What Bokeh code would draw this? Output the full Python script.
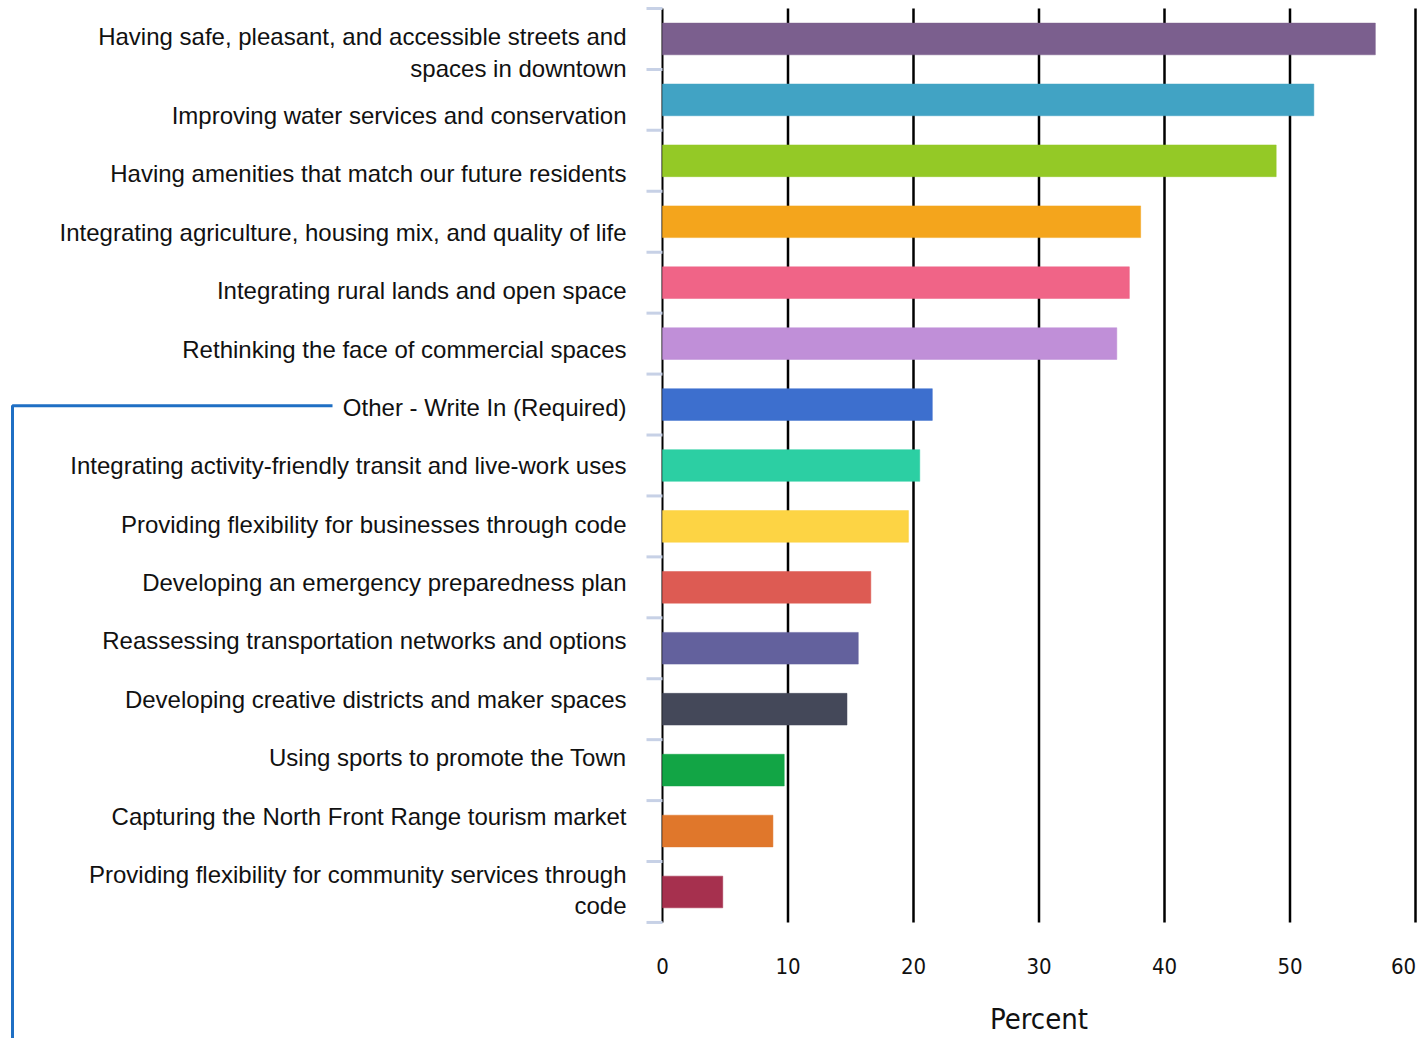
from bokeh.plotting import figure
from bokeh.models import Range1d
from bokeh.embed import file_html
from bokeh.resources import INLINE

# Survey priorities, ordered top to bottom
categories = [
    "Having safe, pleasant, and accessible streets and\nspaces in downtown",
    "Improving water services and conservation",
    "Having amenities that match our future residents",
    "Integrating agriculture, housing mix, and quality of life",
    "Integrating rural lands and open space",
    "Rethinking the face of commercial spaces",
    "Other - Write In (Required)",
    "Integrating activity-friendly transit and live-work uses",
    "Providing flexibility for businesses through code",
    "Developing an emergency preparedness plan",
    "Reassessing transportation networks and options",
    "Developing creative districts and maker spaces",
    "Using sports to promote the Town",
    "Capturing the North Front Range tourism market",
    "Providing flexibility for community services through\ncode",
]
percents = [56.8, 51.9, 48.9, 38.1, 37.2, 36.2, 21.5, 20.5, 19.6, 16.6, 15.6, 14.7, 9.7, 8.8, 4.8]
colors = [
    "#7b5f8e", "#41a3c4", "#94c926", "#f4a51c", "#f06487",
    "#c08fd8", "#3d6fce", "#2ccfa3", "#fdd444", "#dd5b53",
    "#63619d", "#444859", "#12a545", "#e0772b", "#a6304e",
]
x_ticks = [0, 10, 20, 30, 40, 50, 60]
x_tick_labels = [str(t) for t in x_ticks]
x_title = "Percent"
highlighted = "Other - Write In (Required)"

# page geometry (pixels)
W, H = 1421, 1038
ZERO_PX, PX_PER_PCT = 662, 12.55       # where 0 % sits, horizontal scale
TOP_PX, PX_PER_ROW = 8, 60.93          # first row boundary, row pitch
NARROW = "'DejaVu Sans Condensed', 'Liberation Sans', sans-serif"
TEXT = "#111111"

n = len(categories)
centers = [i + 0.5 for i in range(n)]
boundaries = list(range(n + 1))

# row labels sit on a slightly tighter pitch than the bars
LABEL_START, LABEL_PITCH = 0.80, 0.958
label_nudge = {0: -0.08, n - 1: 0.26}
label_pos = [LABEL_START + LABEL_PITCH * k + label_nudge.get(k, 0.0) for k in range(n)]


def px_x(d):
    return d / PX_PER_PCT


def px_y(d):
    return d / PX_PER_ROW


p = figure(
    width=W, height=H, output_backend="svg", toolbar_location=None,
    x_range=Range1d(-px_x(ZERO_PX), px_x(W - ZERO_PX)),
    y_range=Range1d(px_y(H - TOP_PX), -px_y(TOP_PX)),
    min_border=0, x_axis_location=None, y_axis_location=None,
    background_fill_color="white", border_fill_color="white",
    outline_line_color=None,
)
p.grid.grid_line_color = None

# vertical gridlines at each 10 %
grid_x = x_ticks[1:]
p.segment(x0=grid_x, x1=grid_x, y0=[0] * len(grid_x), y1=[n] * len(grid_x),
          line_color="black", line_width=2.5)

# value axis baseline and light row separators
p.segment(x0=[0], x1=[0], y0=[0], y1=[n], line_color="black", line_width=2)
p.segment(x0=[-px_x(16)] * len(boundaries), x1=[0] * len(boundaries),
          y0=boundaries, y1=boundaries, line_color="#c7d1e6", line_width=3)

p.hbar(y=centers, right=percents, left=0, height=0.52,
       fill_color=colors, line_color=colors, line_alpha=0.5, line_width=1)

# row labels
p.text(x=[0] * n, y=label_pos, text=categories, x_offset=-36,
       text_align="right", text_baseline="middle",
       text_font={"value": "Liberation Sans"}, text_font_size="24px",
       text_color=TEXT, text_line_height=1.16)

# percent scale labels (the last one tucked inside the page edge) and title
tick_shift = [0] * (len(x_ticks) - 1) + [-12]
p.text(x=x_ticks, y=[n] * len(x_ticks), text=x_tick_labels, y_offset=44,
       x_offset=tick_shift, text_align="center", text_baseline="middle",
       text_font={"value": NARROW}, text_font_size="22px", text_color=TEXT)
p.text(x=[30], y=[n], text=[x_title], y_offset=97,
       text_align="center", text_baseline="middle",
       text_font={"value": NARROW}, text_font_size="29px", text_color=TEXT)

# connector from the write-in label down the left margin
other_y = label_pos[categories.index(highlighted)] - 0.03
x_edge = -px_x(ZERO_PX - 12)
x_start = -px_x(ZERO_PX - 332)
p.line(x=[x_start, x_edge, x_edge], y=[other_y, other_y, n + px_y(H)],
       line_color="#1f6fc4", line_width=3)

open("out.html", "w").write(file_html(p, INLINE))
